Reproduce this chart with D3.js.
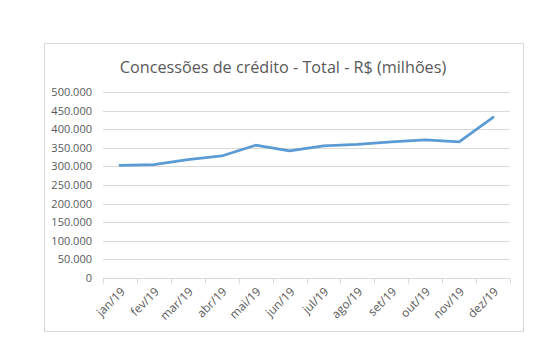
<!DOCTYPE html>
<html>
<head>
<meta charset="utf-8">
<script src="https://cdn.jsdelivr.net/npm/d3@7"></script>
<style>
  html, body { margin: 0; padding: 0; background: #fff; }
  svg { display: block; }
  text { font-family: "Open Sans", "Liberation Sans", sans-serif; fill: #595959; }
</style>
</head>
<body>
<svg id="chart" width="552" height="347"></svg>
<script>
// Monthly credit concessions, R$ millions
const months = ["jan/19","fev/19","mar/19","abr/19","mai/19","jun/19","jul/19","ago/19","set/19","out/19","nov/19","dez/19"];
const totals = [303000, 305000, 318000, 328000, 357000, 342000, 355000, 359000, 366000, 371000, 366000, 432000];
const yTicks = [0, 50000, 100000, 150000, 200000, 250000, 300000, 350000, 400000, 450000, 500000];
const title = "Concessões de crédito - Total - R$ (milhões)";

const svg = d3.select("#chart");
const fmt = d3.formatLocale({decimal: ",", thousands: ".", grouping: [3], currency: ["R$", ""]}).format(",d");

// chart frame
svg.append("rect")
  .attr("x", 44.5).attr("y", 43.5).attr("width", 479).attr("height", 288)
  .attr("fill", "#fff").attr("stroke", "#d9d9d9").attr("stroke-width", 1);

const plot = {left: 103, right: 510, top: 92, bottom: 278};

const x = d3.scaleBand().domain(months).range([plot.left, plot.right]).padding(0);
const y = d3.scaleLinear().domain([0, 500000]).range([plot.bottom, plot.top]);

// title
svg.append("text")
  .attr("x", 283).attr("y", 73)
  .attr("text-anchor", "middle")
  .style("font-size", "16.2px")
  .text(title);

// horizontal gridlines
svg.append("g").selectAll("line")
  .data(yTicks.filter(d => d > 0))
  .join("line")
  .attr("x1", plot.left).attr("x2", plot.right)
  .attr("y1", d => Math.round(y(d)) + 0.5).attr("y2", d => Math.round(y(d)) + 0.5)
  .attr("stroke", "#d9d9d9").attr("stroke-width", 1);

// y axis labels
const yAxis = d3.axisLeft(y).tickValues(yTicks).tickFormat(d => fmt(d)).tickSize(0).tickPadding(11);
const gy = svg.append("g").attr("transform", `translate(${plot.left},0)`).call(yAxis);
gy.select(".domain").remove();
gy.selectAll("text").style("font-size", "11px").attr("fill", "#595959")
  .style("font-family", "'Open Sans', 'Liberation Sans', sans-serif");

// x axis with ticks between categories
const gx = svg.append("g").attr("transform", `translate(0,${Math.round(y(0)) + 0.5})`);
gx.append("line").attr("x1", plot.left).attr("x2", plot.right).attr("stroke", "#d9d9d9");
const bounds = months.map(m => x(m)).concat([plot.right]);
gx.selectAll("line.tick").data(bounds).join("line")
  .attr("class", "tick")
  .attr("x1", d => Math.round(d) + 0.5).attr("x2", d => Math.round(d) + 0.5)
  .attr("y1", 0).attr("y2", 5).attr("stroke", "#d9d9d9");
gx.selectAll("text").data(months).join("text")
  .attr("transform", d => `translate(${x(d) + x.bandwidth() / 2 + 3},${11}) rotate(-45)`)
  .attr("text-anchor", "end")
  .attr("dy", "0.35em")
  .style("font-size", "11.8px")
  .text(d => d);

// series line
const line = d3.line()
  .x((d, i) => x(months[i]) + x.bandwidth() / 2)
  .y(d => y(d));
svg.append("path")
  .datum(totals)
  .attr("d", line)
  .attr("fill", "none")
  .attr("stroke", "#5b9bd5")
  .attr("stroke-width", 2.75)
  .attr("stroke-linejoin", "round")
  .attr("stroke-linecap", "round");
</script>
</body>
</html>
